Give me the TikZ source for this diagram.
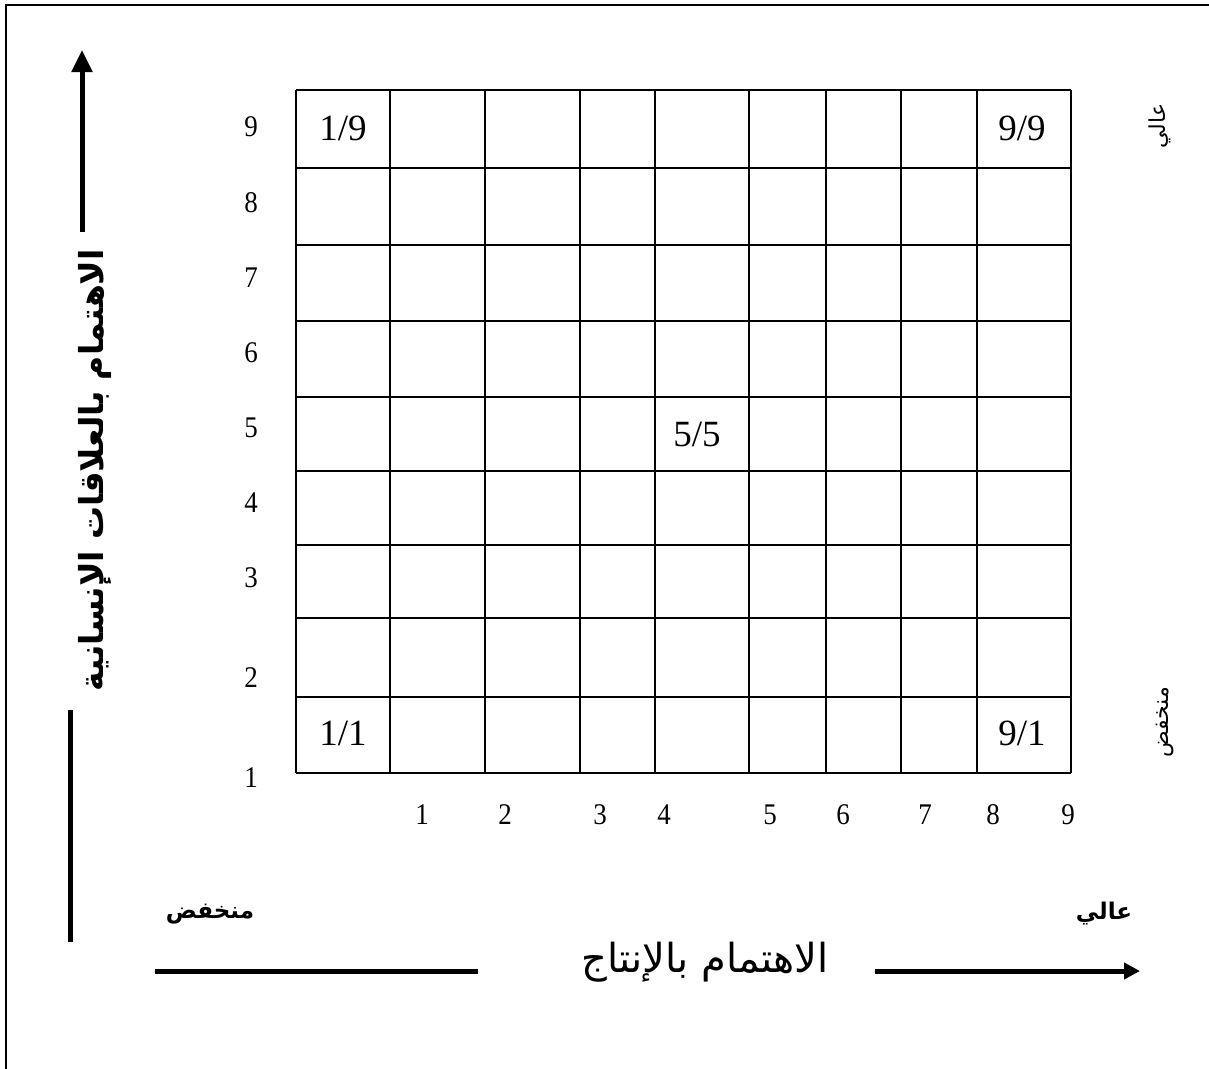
\documentclass[tikz,border=0pt]{standalone}
\usepackage{fontspec}
\setmainfont{Liberation Serif}
\newfontfamily\arabicfont[Script=Arabic]{DejaVu Sans}
\TeXXeTstate=1
\usetikzlibrary{arrows.meta}
\tikzset{
  gridline/.style={line width=2.6pt},
  axisnum/.style={font=\fontsize{30}{32}\selectfont, xscale=0.9, inner sep=0pt},
  cellnum/.style={font=\fontsize{37}{40}\selectfont, inner sep=0pt},
  axisbar/.style={line width=5pt},
  bigarrow/.style={line width=5pt, -{Triangle[length=22pt,width=20pt]}},
  smallarrow/.style={line width=5pt, -{Triangle[length=16pt,width=16pt]}},
  arabold/.style={font=\arabicfont\bfseries\fontsize{23}{26}\selectfont, inner sep=0pt},
  arasmall/.style={font=\arabicfont\fontsize{22}{26}\selectfont, inner sep=0pt, rotate=90},
}
\begin{document}
\begin{tikzpicture}[x=1pt,y=-1pt]
\useasboundingbox (0,0) rectangle (1209,1068);
% frame
\draw[line width=2pt] (6,1075) -- (6,5) -- (1215,5);
% grid
\foreach \x in {296,390,485,580,655,749,826,901,977,1071}
  \draw[gridline] (\x,90) -- (\x,773);
\foreach \y in {90,168,245,321,397,471,545,618,697,773}
  \draw[gridline] (296,\y) -- (1071,\y);
% row labels
\foreach \n/\y in {9/127,8/203,7/278,6/353,5/428,4/503,3/578,2/678,1/778}
  \node[axisnum] (r\n) at (251,\y) {\n};
% column labels
\foreach \n/\x in {1/422,2/505,3/600,4/664,5/770,6/843,7/925,8/993,9/1068}
  \node[axisnum] (c\n) at (\x,815) {\n};
% cell labels
\node[cellnum] (c19) at (343,128) {1/9};
\node[cellnum] (c99) at (1022,128) {9/9};
\node[cellnum] (c55) at (697,434) {5/5};
\node[cellnum] (c11) at (343,733) {1/1};
\node[cellnum] (c91) at (1022,733) {9/1};
% left vertical axis
\node[font=\arabicfont\bfseries\fontsize{33}{36}\selectfont, rotate=90, inner sep=0pt] (ylab) at (95,470) {\beginR الاهتمام بالعلاقات الإنسانية\endR};
\coordinate (ya) at (82,232);
\coordinate (yb) at (82,50);
\coordinate (yc) at (70,710);
\coordinate (yd) at (70,942);
\draw[bigarrow] (ya) -- (yb);
\draw[axisbar] (yc) -- (yd);
% bottom axis
\node[font=\arabicfont\fontsize{40}{44}\selectfont, inner sep=0pt] (xlab) at (705,962) {\beginR الاهتمام بالإنتاج\endR};
\coordinate (xa) at (155,971);
\coordinate (xb) at (478,971);
\coordinate (xc) at (875,971);
\coordinate (xd) at (1140,971);
\draw[axisbar] (xa) -- (xb);
\draw[smallarrow] (xc) -- (xd);
\node[arabold] (low) at (210,914) {\beginR منخفض\endR};
\node[arabold] (high) at (1104,914) {\beginR عالي\endR};
% right small labels
\node[arasmall] (rhigh) at (1160,126) {\beginR عالي\endR};
\node[arasmall] (rlow) at (1165,722) {\beginR منخفض\endR};
\end{tikzpicture}
\end{document}
